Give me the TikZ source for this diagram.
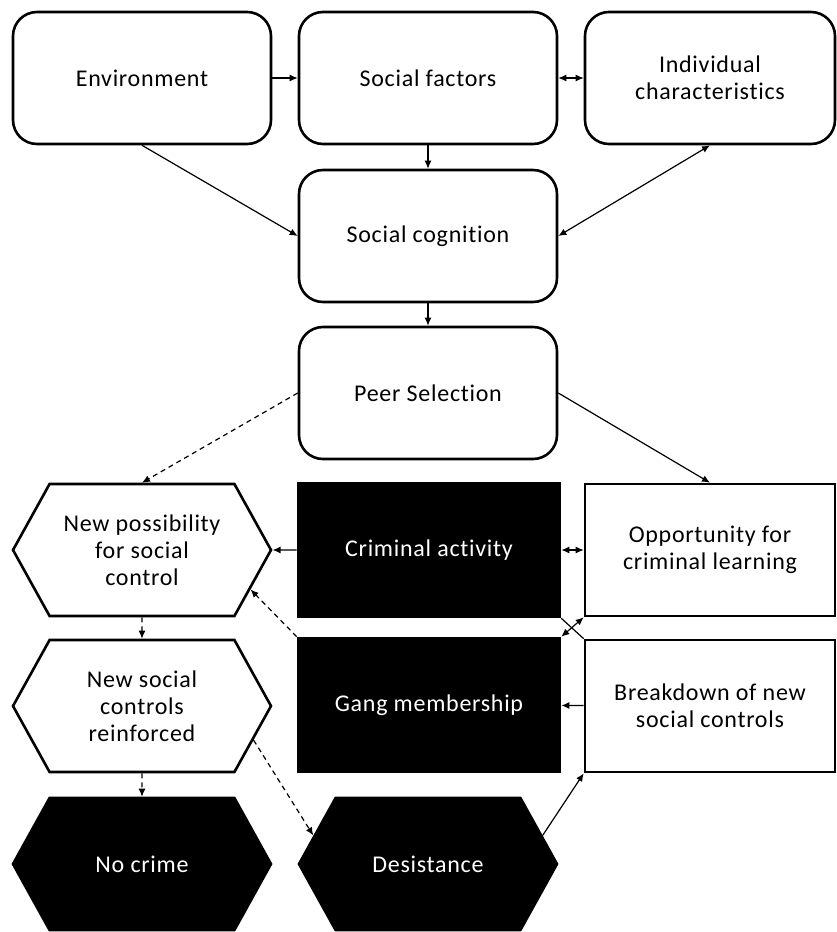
\documentclass[tikz,border=0pt]{standalone}
\usepackage{fontspec}
\setmainfont{Carlito}[LetterSpace=3, Ligatures={NoCommon,NoRequired}, Contextuals=NoAlternate]
\usetikzlibrary{positioning,arrows.meta,shapes.symbols}

\tikzset{
  basebox/.style={line width=2.6pt, align=center, inner sep=0pt, font=\fontsize{24}{27}\selectfont},
  roundbox/.style={basebox, draw, rounded corners=24pt, minimum width=258pt, minimum height=132pt},
  plainbox/.style={basebox, draw, minimum width=250pt, minimum height=132pt},
  darkbox/.style={basebox, draw, fill=black, text=white, minimum width=262pt, minimum height=134pt},
  hexbox/.style={basebox, draw, signal, signal to=east and west, signal pointer angle=122, minimum width=258pt, minimum height=132pt},
  darkhex/.style={hexbox, fill=black, text=white},
  link/.style={-{Latex[length=8pt,width=7pt]}, line width=1.2pt},
  dual/.style={{Latex[length=8pt,width=7pt]}-{Latex[length=8pt,width=7pt]}, line width=1.2pt},
  dlink/.style={link, dashed, dash pattern=on 5pt off 4pt}
}

\begin{document}
\begin{tikzpicture}[x=1pt, y=-1pt]
  \useasboundingbox (0,0) rectangle (836,932);

  % Top row
  \node[roundbox] (env) at (142,78) {Environment};
  \node[roundbox] (soc) at (428,78) {Social factors};
  \node[roundbox, minimum width=250pt] (ind) at (710,78) {Individual\\characteristics};

  % Middle column
  \node[roundbox] (cog) at (428,236) {Social cognition};
  \node[roundbox] (peer) at (428,393) {Peer Selection};

  % Lower rows
  \node[hexbox] (poss) at (142,550) {New possibility\\for social\\control};
  \node[darkbox] (crim) at (429,550) {Criminal activity};
  \node[plainbox] (opp) at (710,550) {Opportunity for\\criminal learning};

  \node[hexbox] (rein) at (142,706) {New social\\controls\\reinforced};
  \node[darkbox] (gang) at (429,705) {Gang membership};
  \node[plainbox] (brk) at (710,706) {Breakdown of new\\social controls};

  \node[darkhex] (nocrime) at (142,864) {No crime};
  \node[darkhex] (des) at (428,864) {Desistance};

  % Connectors
  \draw[link] (env) -- (soc);
  \draw[dual] (soc) -- (ind);
  \draw[link] (soc) -- (cog);
  \draw[link] (env.south) -- (cog.west);
  \draw[dual] (ind.south) -- (cog.east);
  \draw[link] (cog) -- (peer);
  \draw[dlink] (peer.west) -- (poss.north);
  \draw[link] (peer.east) -- (opp.north);

  \draw[link] (crim) -- (poss);
  \draw[dual] (crim) -- (opp);
  \draw[dual] (gang.north east) -- (opp.south west);
  \draw[line width=1.2pt] (crim.south east) -- (brk.north west);
  \draw[dlink] (gang.north west) -- (poss.-20);
  \draw[link] (brk) -- (gang);

  \draw[dlink] (poss) -- (rein);
  \draw[dlink] (rein) -- (nocrime);
  \draw[dlink] (rein.-17) -- (des.166);
  \draw[link] (des.14) -- (brk.south west);
\end{tikzpicture}
\end{document}
